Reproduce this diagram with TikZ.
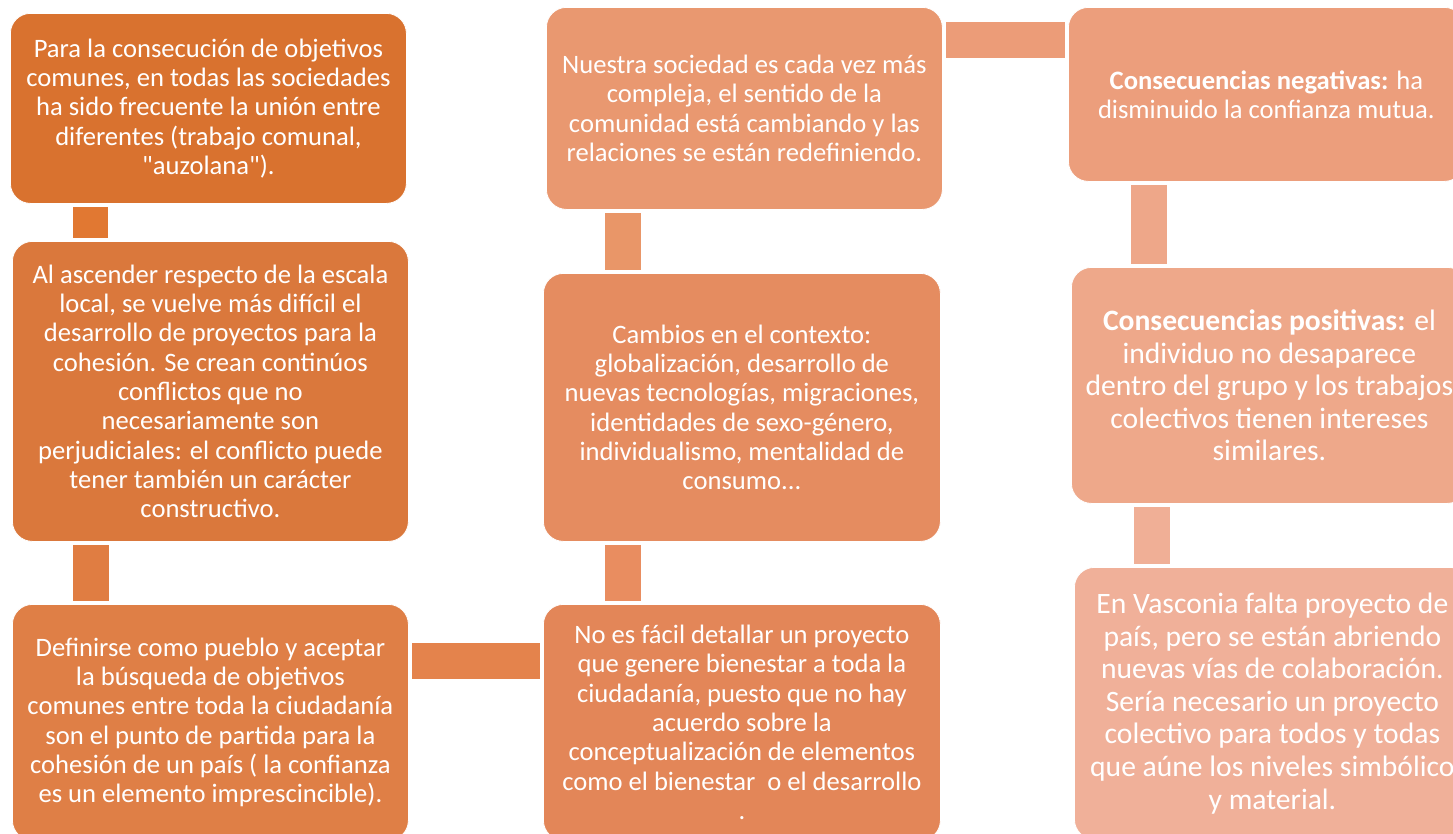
\documentclass[tikz,border=0pt]{standalone}
\usepackage{fontspec}
\setmainfont{Carlito}[Ligatures=ResetAll]
\newcommand\sq{\XeTeXglyph\XeTeXcharglyph"22\relax}
\definecolor{cA}{HTML}{D9722F}
\definecolor{cB}{HTML}{DA783C}
\definecolor{cC}{HTML}{DF7F46}
\definecolor{cD}{HTML}{E38658}
\definecolor{cF}{HTML}{E58C60}
\definecolor{cE}{HTML}{E99870}
\definecolor{cG}{HTML}{EC9E7C}
\definecolor{cH}{HTML}{EEA88A}
\definecolor{cI}{HTML}{F0B099}
\definecolor{kAB}{HTML}{E17832}
\definecolor{kBC}{HTML}{E07D42}
\definecolor{kCD}{HTML}{E4834C}
\definecolor{kDF}{HTML}{E98D60}
\definecolor{kFE}{HTML}{E99668}
\definecolor{kEG}{HTML}{EC9C78}
\definecolor{kGH}{HTML}{EEA789}
\definecolor{kHI}{HTML}{F0AF96}
\begin{document}
\begin{tikzpicture}[x=1pt,y=-1pt,
  box/.style={draw=white, line width=0.8pt, rounded corners=20pt, anchor=north west,
    inner sep=0pt, align=center, text=white, font=\fontsize{26.6}{29.3}\selectfont},
  bigtext/.style={font=\fontsize{29.6}{32.6}\selectfont},
]
\useasboundingbox (0,0) rectangle (1453,833);
\begin{scope}
\clip (0,0) rectangle (1453,833);
% column 1
\node[box, fill=cA, minimum width=396pt, minimum height=190pt] (A) at (10,13)
  {Para la consecución de objetivos\\comunes, en todas las sociedades\\ha sido frecuente la unión entre\\diferentes (trabajo comunal,\\\sq auzolana\sq).};
\node[box, fill=cB, minimum width=396pt, minimum height=300pt] (B) at (12,241)
  {Al ascender respecto de la escala\\local, se vuelve más difícil el\\desarrollo de proyectos para la\\cohesión. Se crean continúos\\conflictos que no\\necesariamente son\\perjudiciales: el conflicto puede\\tener también un carácter\\constructivo.};
\node[box, fill=cC, minimum width=396pt, minimum height=236pt] (C) at (12,604)
  {Definirse como pueblo y aceptar\\la búsqueda de objetivos\\comunes entre toda la ciudadanía\\son el punto de partida para la\\cohesión de un país ( la confianza\\es un elemento imprescincible).};
% column 2
\node[box, fill=cE, minimum width=396pt, minimum height=202pt] (E) at (546,7)
  {Nuestra sociedad es cada vez más\\compleja, el sentido de la\\comunidad está cambiando y las\\relaciones se están redefiniendo.};
\node[box, fill=cF, minimum width=397pt, minimum height=268pt] (F) at (543,273)
  {Cambios en el contexto:\\globalización, desarrollo de\\nuevas tecnologías, migraciones,\\identidades de sexo-género,\\individualismo, mentalidad de\\consumo...};
\node[box, fill=cD, minimum width=397pt, minimum height=236pt] (D) at (543,604)
  {No es fácil detallar un proyecto\\que genere bienestar a toda la\\ciudadanía, puesto que no hay\\acuerdo sobre la\\conceptualización de elementos\\como el bienestar\ \ o el desarrollo\\.};
% column 3
\node[box, fill=cG, minimum width=396pt, minimum height=174pt] (G) at (1068,7)
  {\textbf{Consecuencias negativas:} ha\\disminuido la confianza mutua.};
\node[box, bigtext, fill=cH, minimum width=396pt, minimum height=236pt] (H) at (1071,267)
  {\textbf{Consecuencias positivas:} el\\individuo no desaparece\\dentro del grupo y los trabajos\\colectivos tienen intereses\\similares.};
\node[box, bigtext, fill=cI, minimum width=396pt, minimum height=272pt] (I) at (1074,567)
  {En Vasconia falta proyecto de\\país, pero se están abriendo\\nuevas vías de colaboración.\\Sería necesario un proyecto\\colectivo para todos y todas\\que aúne los niveles simbólico\\y material.};
% connectors
\fill[kAB] ([xshift=63pt,yshift=-3pt]A.south west) rectangle ([xshift=96pt,yshift=3pt]B.north west);
\fill[kBC] ([xshift=61pt,yshift=-3pt]B.south west) rectangle ([xshift=97pt,yshift=3pt]C.north west);
\fill[kCD] ([xshift=3pt,yshift=-39pt]C.north east) rectangle ([xshift=-3pt,yshift=-75pt]D.north west);
\fill[kDF] ([xshift=62pt,yshift=3pt]D.north west) rectangle ([xshift=98pt,yshift=-3pt]F.south west);
\fill[kFE] ([xshift=59pt,yshift=-3pt]E.south west) rectangle ([xshift=98pt,yshift=3pt]F.north west);
\fill[kEG] ([xshift=3pt,yshift=-15pt]E.north east) rectangle ([xshift=-3pt,yshift=-51pt]G.north west);
\fill[kGH] ([xshift=63pt,yshift=-3pt]G.south west) rectangle ([xshift=96pt,yshift=3pt]H.north west);
\fill[kHI] ([xshift=63pt,yshift=-3pt]H.south west) rectangle ([xshift=96pt,yshift=3pt]I.north west);
\end{scope}
\end{tikzpicture}
\end{document}
